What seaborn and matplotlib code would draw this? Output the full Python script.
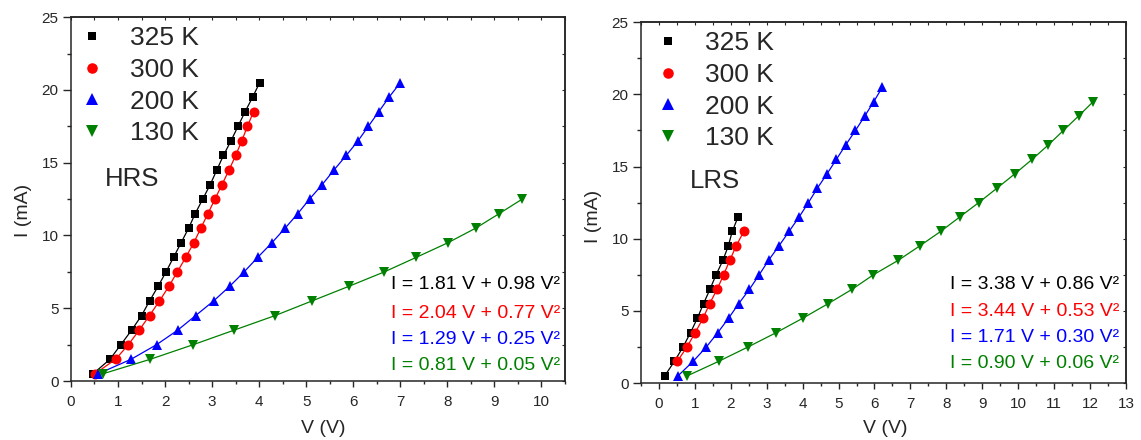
import matplotlib
import matplotlib.pyplot as plt
import numpy as np
import pandas as pd
import seaborn as sns
from matplotlib.lines import Line2D
from matplotlib.ticker import MultipleLocator

matplotlib.use("Agg")

temps = ["325 K", "300 K", "200 K", "130 K"]
colors = ["#000000", "#ff0000", "#0000ff", "#008000"]
markers = ["s", "o", "^", "v"]

# HRS panel, V in volts, I in mA
hrs_325_v = [0.47, 0.83, 1.06, 1.29, 1.50, 1.67, 1.85, 2.02, 2.18, 2.34, 2.50,
             2.64, 2.80, 2.96, 3.10, 3.24, 3.40, 3.55, 3.70, 3.86, 4.01]
hrs_325_i = [0.5, 1.5, 2.5, 3.5, 4.5, 5.5, 6.5, 7.5, 8.5, 9.5, 10.5,
             11.5, 12.5, 13.5, 14.5, 15.5, 16.5, 17.5, 18.5, 19.5, 20.5]
hrs_300_v = [0.51, 0.95, 1.22, 1.45, 1.67, 1.88, 2.08, 2.26, 2.44, 2.61,
             2.76, 2.91, 3.06, 3.21, 3.36, 3.50, 3.63, 3.75, 3.88]
hrs_300_i = [0.5, 1.5, 2.5, 3.5, 4.5, 5.5, 6.5, 7.5, 8.5, 9.5,
             10.5, 11.5, 12.5, 13.5, 14.5, 15.5, 16.5, 17.5, 18.5]
hrs_200_v = [0.58, 1.28, 1.82, 2.27, 2.65, 3.03, 3.37, 3.68, 3.97, 4.27, 4.55,
             4.82, 5.07, 5.34, 5.59, 5.85, 6.10, 6.32, 6.54, 6.76, 7.00]
hrs_200_i = [0.5, 1.5, 2.5, 3.5, 4.5, 5.5, 6.5, 7.5, 8.5, 9.5, 10.5,
             11.5, 12.5, 13.5, 14.5, 15.5, 16.5, 17.5, 18.5, 19.5, 20.5]
hrs_130_v = [0.68, 1.69, 2.60, 3.47, 4.34, 5.12, 5.90, 6.66, 7.34, 8.01, 8.60, 9.10, 9.59]
hrs_130_i = [0.5, 1.5, 2.5, 3.5, 4.5, 5.5, 6.5, 7.5, 8.5, 9.5, 10.5, 11.5, 12.5]
hrs_fits = ["I = 1.81 V + 0.98 V²", "I = 2.04 V + 0.77 V²",
            "I = 1.29 V + 0.25 V²", "I = 0.81 V + 0.05 V²"]

# LRS panel
lrs_325_v = [0.16, 0.43, 0.67, 0.88, 1.07, 1.24, 1.42, 1.59, 1.78, 1.93, 2.04, 2.20]
lrs_325_i = [0.5, 1.5, 2.5, 3.5, 4.5, 5.5, 6.5, 7.5, 8.5, 9.5, 10.5, 11.5]
lrs_300_v = [0.51, 0.78, 1.01, 1.23, 1.41, 1.62, 1.80, 1.97, 2.15, 2.36]
lrs_300_i = [1.5, 2.5, 3.5, 4.5, 5.5, 6.5, 7.5, 8.5, 9.5, 10.5]
lrs_200_v = [0.53, 0.95, 1.32, 1.64, 1.94, 2.22, 2.52, 2.79, 3.05, 3.34, 3.62,
             3.90, 4.16, 4.41, 4.68, 4.94, 5.20, 5.47, 5.73, 5.98, 6.22]
lrs_200_i = [0.5, 1.5, 2.5, 3.5, 4.5, 5.5, 6.5, 7.5, 8.5, 9.5, 10.5,
             11.5, 12.5, 13.5, 14.5, 15.5, 16.5, 17.5, 18.5, 19.5, 20.5]
lrs_130_v = [0.79, 1.66, 2.48, 3.27, 4.01, 4.71, 5.38, 5.97, 6.66, 7.26,
             7.84, 8.37, 8.90, 9.41, 9.91, 10.39, 10.84, 11.26, 11.68, 12.09]
lrs_130_i = [0.5, 1.5, 2.5, 3.5, 4.5, 5.5, 6.5, 7.5, 8.5, 9.5,
             10.5, 11.5, 12.5, 13.5, 14.5, 15.5, 16.5, 17.5, 18.5, 19.5]
lrs_fits = ["I = 3.38 V + 0.86 V²", "I = 3.44 V + 0.53 V²",
            "I = 1.71 V + 0.30 V²", "I = 0.90 V + 0.06 V²"]

sns.set_style("ticks")
plt.rcParams['font.family'] = ['Liberation Sans', 'DejaVu Sans']
plt.rcParams['axes.linewidth'] = 1.1

marker_sizes = {"s": 6.0, "o": 7.2, "^": 7.6, "v": 7.6}


def make_frame(vs, cs):
    frames = []
    for t, v, c in zip(temps, vs, cs):
        frames.append(pd.DataFrame({"V": v, "I": c, "T": t}))
    return pd.concat(frames, ignore_index=True)


def draw_panel(ax, df, fits, tag, xlim, xmax_tick, fit_x, fit_y, tag_xy, legend_anchor):
    for t, c, m in zip(temps, colors, markers):
        sub = df[df["T"] == t]
        sns.lineplot(data=sub, x="V", y="I", color=c, marker=m, markersize=marker_sizes[m],
                     markeredgewidth=0, lw=0.9, estimator=None, sort=False, legend=False, ax=ax)

    ax.set_xlim(*xlim)
    ax.set_ylim(0, 25)
    ax.set_xticks(np.arange(0, xmax_tick + 1, 1))
    ax.xaxis.set_minor_locator(MultipleLocator(0.5))
    ax.set_yticks([0, 5, 10, 15, 20, 25])
    ax.yaxis.set_minor_locator(MultipleLocator(2.5))
    ax.tick_params(axis="x", which="major", direction="out", length=4.5, width=1, labelsize=11, pad=5.5)
    ax.tick_params(axis="y", which="major", direction="out", length=5.5, width=1, labelsize=11, pad=3.5)
    ax.tick_params(axis="x", which="minor", direction="out", length=2.3, width=1)
    ax.tick_params(axis="y", which="minor", direction="out", length=3, width=1)
    for s in ax.spines.values():
        s.set_visible(True)

    # mirrored inward ticks on top and right
    top = ax.secondary_xaxis("top")
    top.set_xticks(np.arange(0, xmax_tick + 1, 1), labels=[])
    top.xaxis.set_minor_locator(MultipleLocator(0.5))
    top.tick_params(which="both", direction="in", length=2.5, width=0.8)
    right = ax.secondary_yaxis("right")
    right.set_yticks([0, 5, 10, 15, 20, 25], labels=[])
    right.yaxis.set_minor_locator(MultipleLocator(2.5))
    right.tick_params(which="both", direction="in", length=2.5, width=0.8)

    ax.set_xlabel("V (V)", fontsize=14)
    ax.set_ylabel("I (mA)", fontsize=14)

    for k, (txt, c) in enumerate(zip(fits, colors)):
        ax.text(fit_x, fit_y[k], txt, color=c, fontsize=14, ha="right", va="center")
    ax.text(tag_xy[0], tag_xy[1], tag, fontsize=18.5, ha="left", va="center")

    handles = [Line2D([], [], ls="none", marker=m, color=c, markersize=marker_sizes[m] + 0.4,
                      markeredgewidth=0) for c, m in zip(colors, markers)]
    ax.legend(handles, temps, loc="upper left", bbox_to_anchor=legend_anchor, frameon=False,
              fontsize=19, handlelength=1.0, handletextpad=0.92, labelspacing=0.29,
              borderpad=0, borderaxespad=0)


hrs_df = make_frame([hrs_325_v, hrs_300_v, hrs_200_v, hrs_130_v],
                    [hrs_325_i, hrs_300_i, hrs_200_i, hrs_130_i])
lrs_df = make_frame([lrs_325_v, lrs_300_v, lrs_200_v, lrs_130_v],
                    [lrs_325_i, lrs_300_i, lrs_200_i, lrs_130_i])

fig = plt.figure(figsize=(11.41, 4.40), dpi=100)
ax1 = fig.add_axes([0.0622, 0.134, 0.433, 0.827])
ax2 = fig.add_axes([0.5618, 0.1295, 0.425, 0.820])

draw_panel(ax1, hrs_df, hrs_fits, "HRS", (0, 10.5), 10, 10.4, [6.6, 4.67, 2.88, 1.1],
           (0.73, 13.9), (0.016, 0.975))
draw_panel(ax2, lrs_df, lrs_fits, "LRS", (-0.5, 13), 13, 12.82, [6.83, 4.98, 3.18, 1.38],
           (0.87, 14.0), (0.028, 0.975))

ax1.yaxis.set_label_coords(-0.079, 0.47)
ax2.yaxis.set_label_coords(-0.080, 0.463)
ax1.xaxis.set_label_coords(0.51, -0.107)
ax2.xaxis.set_label_coords(0.503, -0.102)

fig.savefig("out.png", dpi=100)
